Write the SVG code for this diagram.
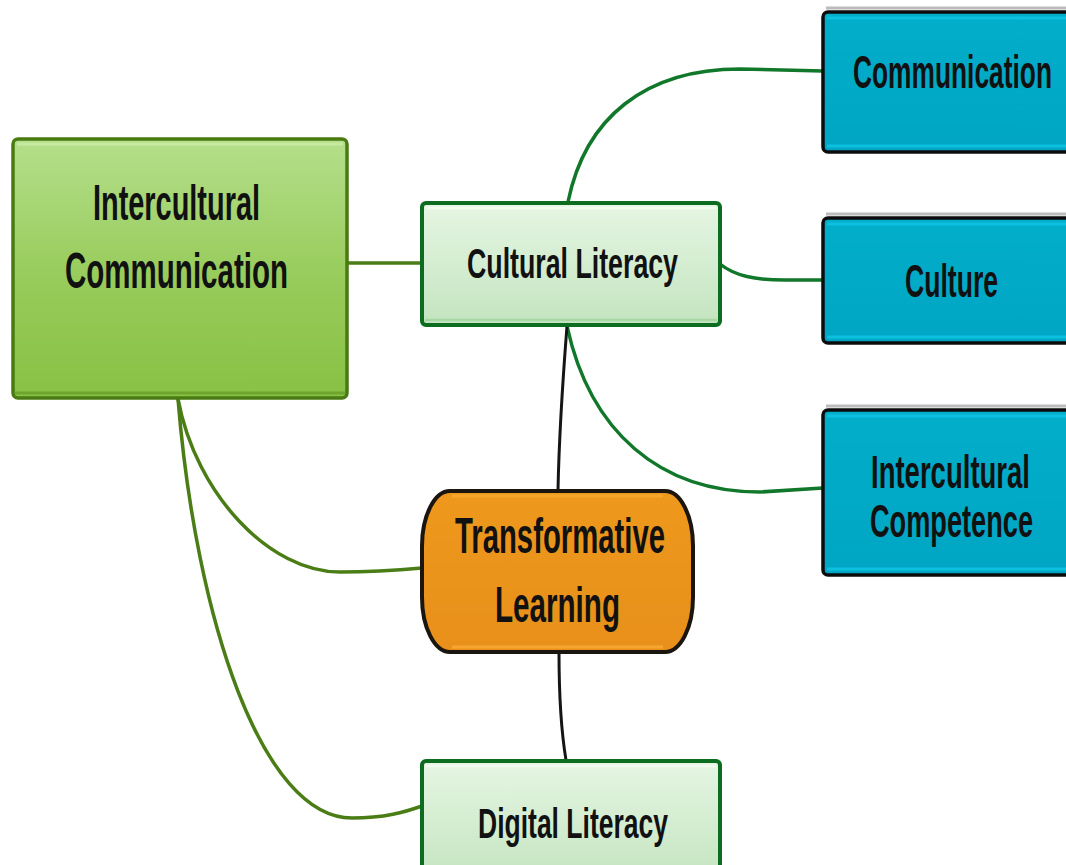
<svg xmlns="http://www.w3.org/2000/svg" width="1066" height="865" viewBox="0 0 1066 865">
  <defs>
    <linearGradient id="gMain" x1="0" y1="0" x2="0" y2="1">
      <stop offset="0" stop-color="#b4df8b"/>
      <stop offset="0.55" stop-color="#97cb5a"/>
      <stop offset="1" stop-color="#88c144"/>
    </linearGradient>
    <linearGradient id="gLit" x1="0" y1="0" x2="0" y2="1">
      <stop offset="0" stop-color="#e6f6e3"/>
      <stop offset="1" stop-color="#c3e4bf"/>
    </linearGradient>
    <linearGradient id="gBlue" x1="0" y1="0" x2="0" y2="1">
      <stop offset="0" stop-color="#02aeca"/>
      <stop offset="1" stop-color="#00a6c4"/>
    </linearGradient>
    <linearGradient id="gOrange" x1="0" y1="0" x2="0" y2="1">
      <stop offset="0" stop-color="#ee981d"/>
      <stop offset="1" stop-color="#e8901a"/>
    </linearGradient>
  </defs>
  <style>
    text { font-family: "Liberation Sans", Arial, sans-serif; font-weight: bold; fill: #111; }
    .big { font-size: 50px; }
    .mid { font-size: 43px; }
    .blu { font-size: 46px; }
    .olive { fill: none; stroke: #4b7d16; stroke-width: 3.5; stroke-linecap: round; }
    .green { fill: none; stroke: #11772a; stroke-width: 3.5; stroke-linecap: round; }
    .dark { fill: none; stroke: #151515; stroke-width: 3; stroke-linecap: round; }
    .blueBox { fill: url(#gBlue); stroke: #0c0c0c; stroke-width: 3.5; }
    .blueShade { fill: none; stroke: #bcbcbc; stroke-width: 3; }
    .blueHi { fill: none; stroke: #0cc0e0; stroke-width: 3; }
    .litBox { fill: url(#gLit); stroke: #0c6c1f; stroke-width: 4; }
    .litHi { fill: none; stroke: #f2fbf0; stroke-width: 2.5; }
  </style>

  <rect width="1066" height="865" fill="#ffffff"/>

  <!-- connectors -->
  <g id="connectors">
    <path class="olive" d="M347,263 L422,263"/>
    <path class="olive" d="M178,399 C196,495 270,572 340,572 C370,572 400,570 422,568"/>
    <path class="olive" d="M178,399 C196,620 262,818 352,818 C385,818 405,812 422,806"/>
    <path class="green" d="M568,202 C585,118 645,69 740,69 L823,71"/>
    <path class="green" d="M720,264 C735,276 755,280 785,280 L823,280"/>
    <path class="green" d="M567,326 C590,432 660,492 760,492 L823,488"/>
    <path class="dark" d="M567,326 C562,390 559,440 558,490"/>
    <path class="dark" d="M559,652 C559,690 561,730 566,760"/>
  </g>

  <!-- Intercultural Communication -->
  <g id="node-intercultural-communication">
    <rect x="13" y="139" width="334" height="259" rx="5" fill="url(#gMain)" stroke="#4a7a12" stroke-width="3.5"/>
    <line x1="17" y1="144" x2="343" y2="144" stroke="#c6eaa0" stroke-width="3"/>
    <line x1="15" y1="393" x2="345" y2="393" stroke="#6fa52f" stroke-width="3"/>
    <text class="big" x="93" y="220" textLength="167" lengthAdjust="spacingAndGlyphs">Intercultural</text>
    <text class="big" x="65" y="288" textLength="223" lengthAdjust="spacingAndGlyphs">Communication</text>
  </g>

  <!-- Cultural Literacy -->
  <g id="node-cultural-literacy">
    <rect class="litBox" x="422" y="203" width="298" height="122" rx="4"/>
    <line class="litHi" x1="426" y1="208" x2="716" y2="208"/>
    <line x1="425" y1="320" x2="717" y2="320" stroke="#a9d7a4" stroke-width="2.5"/>
    <text class="mid" x="467" y="278" textLength="211" lengthAdjust="spacingAndGlyphs">Cultural Literacy</text>
  </g>

  <!-- Transformative Learning -->
  <g id="node-transformative-learning">
    <path d="M450,491 L665,491 A28,55 0 0 1 693,546 L693,597 A28,55 0 0 1 665,652 L450,652 A28,55 0 0 1 422,597 L422,546 A28,55 0 0 1 450,491 Z" fill="url(#gOrange)" stroke="#1b1510" stroke-width="4"/>
    <line x1="452" y1="496" x2="663" y2="496" stroke="#f5a72c" stroke-width="3"/>
    <line x1="452" y1="647" x2="663" y2="647" stroke="#f6a630" stroke-width="3"/>
    <text class="big" x="455" y="553" textLength="210" lengthAdjust="spacingAndGlyphs">Transformative</text>
    <text class="big" x="495" y="622" textLength="125" lengthAdjust="spacingAndGlyphs">Learning</text>
  </g>

  <!-- Digital Literacy -->
  <g id="node-digital-literacy">
    <rect class="litBox" x="422" y="761" width="298" height="122" rx="4"/>
    <line class="litHi" x1="426" y1="766" x2="716" y2="766"/>
    <text class="mid" x="478" y="838" textLength="190" lengthAdjust="spacingAndGlyphs">Digital Literacy</text>
  </g>

  <!-- Communication -->
  <g id="node-communication">
    <line class="blueShade" x1="826" y1="8" x2="1066" y2="8"/>
    <rect class="blueBox" x="823" y="12" width="262" height="140" rx="5"/>
    <line class="blueHi" x1="827" y1="18" x2="1066" y2="18"/>
    <line class="blueHi" x1="827" y1="146" x2="1066" y2="146"/>
    <text class="blu" x="853" y="88" textLength="199" lengthAdjust="spacingAndGlyphs">Communication</text>
  </g>

  <!-- Culture -->
  <g id="node-culture">
    <line class="blueShade" x1="826" y1="214" x2="1066" y2="214"/>
    <rect class="blueBox" x="823" y="218" width="262" height="125" rx="5"/>
    <line class="blueHi" x1="827" y1="224" x2="1066" y2="224"/>
    <line class="blueHi" x1="827" y1="337" x2="1066" y2="337"/>
    <text class="blu" x="905" y="297" textLength="93" lengthAdjust="spacingAndGlyphs">Culture</text>
  </g>

  <!-- Intercultural Competence -->
  <g id="node-intercultural-competence">
    <line class="blueShade" x1="826" y1="406" x2="1066" y2="406"/>
    <rect class="blueBox" x="823" y="410" width="262" height="165" rx="5"/>
    <line class="blueHi" x1="827" y1="416" x2="1066" y2="416"/>
    <line class="blueHi" x1="827" y1="569" x2="1066" y2="569"/>
    <text class="blu" x="871" y="488" textLength="159" lengthAdjust="spacingAndGlyphs">Intercultural</text>
    <text class="blu" x="870" y="537" textLength="163" lengthAdjust="spacingAndGlyphs">Competence</text>
  </g>
</svg>
